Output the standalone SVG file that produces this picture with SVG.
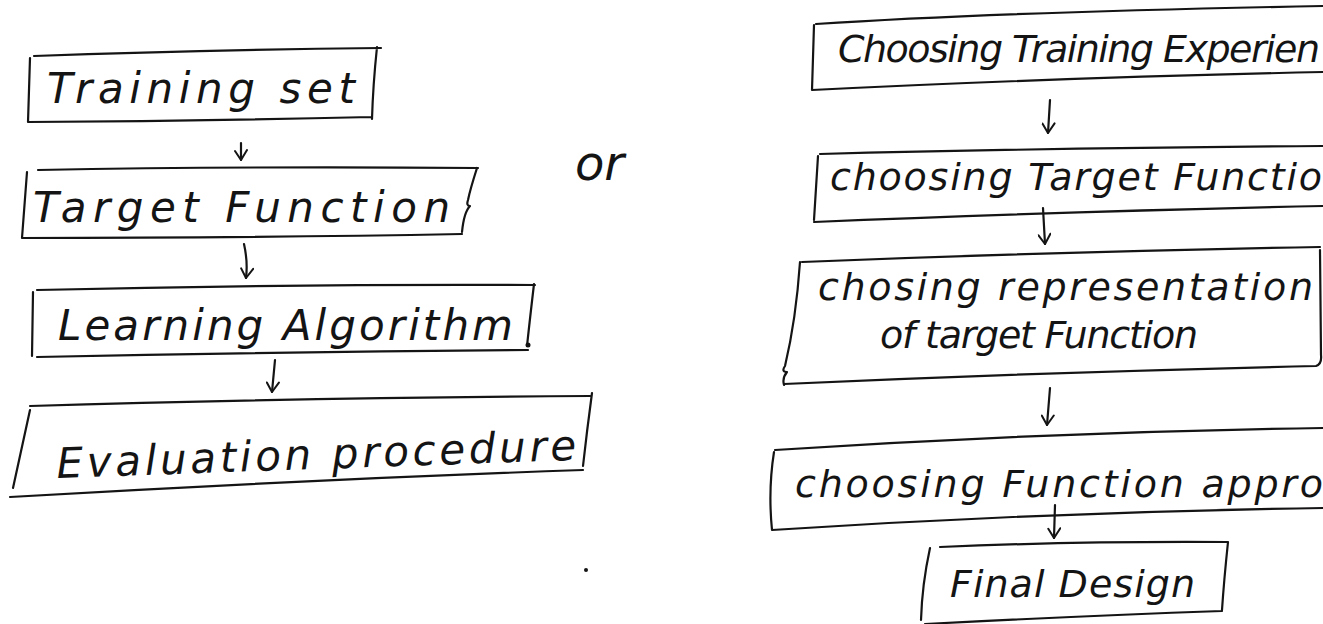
<svg xmlns="http://www.w3.org/2000/svg" width="1323" height="624" viewBox="0 0 1323 624">
  <style>
    .ink { fill: none; stroke: #141414; stroke-width: 2.2; stroke-linecap: round; stroke-linejoin: round; }
    .lbl { font-family: "DejaVu Sans", "Liberation Sans", sans-serif; font-style: italic; fill: #141414; }
    .big { font-size: 42px; }
    .mid { font-size: 38px; }
  </style>
  <defs>
    <!-- open V head, drawn along +x so it follows the line direction -->
    <marker id="head" viewBox="0 0 14 14" refX="12" refY="7" markerWidth="14" markerHeight="14" markerUnits="userSpaceOnUse" orient="auto">
      <path d="M2 1 L12 7 L3 13" fill="none" stroke="#141414" stroke-width="2" stroke-linecap="round" stroke-linejoin="round"/>
    </marker>
  </defs>
  <rect width="1323" height="624" fill="#ffffff"/>

  <!-- left flow -->
  <g id="training-set">
    <path class="ink" d="M34 56 Q200 50 381 48 M30 58 L28 122 M28 122 Q200 121 372 117 M377 47 Q373 85 372 119"/>
    <text class="lbl big" x="47" y="103" textLength="308" lengthAdjust="spacing">Training set</text>
  </g>
  <g id="target-function">
    <path class="ink" d="M38 170 Q250 166 478 168 M27 172 L22 238 M22 238 Q250 238 462 234 M477 168 Q470 190 468 200 Q466 206 470 206 Q464 212 462 232"/>
    <text class="lbl big" x="33" y="222" textLength="417" lengthAdjust="spacing">Target Function</text>
  </g>
  <g id="learning-algorithm">
    <path class="ink" d="M37 290 Q280 284 535 285 M33 292 L32 356 M37 357 Q280 352 528 350 M534 284 Q530 318 527 346"/>
    <circle cx="528" cy="345" r="2.5" fill="#141414"/>
    <text class="lbl big" x="58" y="340" textLength="455" lengthAdjust="spacing">Learning Algorithm</text>
  </g>
  <g id="evaluation-procedure">
    <path class="ink" d="M30 406 Q300 398 590 396 M30 410 L13 488 M10 497 Q300 480 583 470 M592 393 Q587 430 583 466"/>
    <text class="lbl big" x="57" y="478" textLength="520" lengthAdjust="spacing" transform="rotate(-2 57 478)">Evaluation procedure</text>
  </g>

  <text id="or" class="lbl" x="575" y="180" font-size="48">or</text>

  <!-- right flow -->
  <g id="choosing-training-experience">
    <path class="ink" d="M816 24 Q1000 12 1323 6 M814 25 L812 90 M812 90 Q1050 78 1323 72"/>
    <text class="lbl mid" x="838" y="62" textLength="482" lengthAdjust="spacing">Choosing Training Experien</text>
  </g>
  <g id="choosing-target-function">
    <path class="ink" d="M820 154 Q1050 148 1323 146 M818 156 L814 220 M814 222 Q1050 212 1323 206"/>
    <text class="lbl mid" x="830" y="190" textLength="492" lengthAdjust="spacing">choosing Target Functio</text>
  </g>
  <g id="choosing-representation">
    <path class="ink" d="M802 262 Q1050 252 1320 247 M800 262 Q796 320 785 366 Q781 372 787 372 Q782 378 784 385 M784 384 Q1050 372 1316 366 Q1322 364 1321 355 L1320 250"/>
    <text class="lbl mid" x="818" y="300" textLength="495" lengthAdjust="spacing">chosing representation</text>
    <text class="lbl mid" x="880" y="348" textLength="318" lengthAdjust="spacing">of target Function</text>
  </g>
  <g id="choosing-function-approx">
    <path class="ink" d="M775 450 Q1050 432 1323 428 M774 452 Q768 490 772 530 M772 530 Q1050 512 1323 508"/>
    <text class="lbl mid" x="795" y="497" textLength="528" lengthAdjust="spacing">choosing Function appro</text>
  </g>
  <g id="final-design">
    <path class="ink" d="M940 547 Q1080 541 1228 542 M930 548 Q922 585 921 620 M1228 542 Q1224 580 1222 610 M925 624 Q1080 616 1222 611"/>
    <text class="lbl mid" x="950" y="597" textLength="245" lengthAdjust="spacing">Final Design</text>
  </g>

  <!-- connectors -->
  <g id="connectors">
    <path class="ink" d="M241 143 L241 160" marker-end="url(#head)"/>
    <path class="ink" d="M244 244 Q248 262 246 278" marker-end="url(#head)"/>
    <path class="ink" d="M275 360 L272 392" marker-end="url(#head)"/>
    <path class="ink" d="M1050 100 L1048 133" marker-end="url(#head)"/>
    <path class="ink" d="M1043 208 L1045 244" marker-end="url(#head)"/>
    <path class="ink" d="M1050 388 L1047 425" marker-end="url(#head)"/>
    <path class="ink" d="M1055 505 L1054 538" marker-end="url(#head)"/>
  </g>

  <circle cx="586" cy="570" r="2" fill="#141414"/>
</svg>
